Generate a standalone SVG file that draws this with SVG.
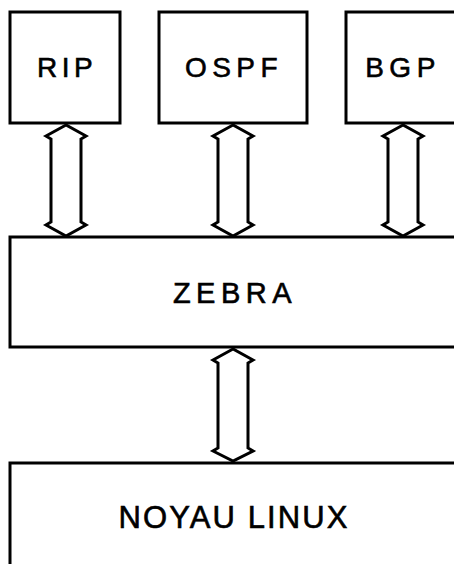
<svg xmlns="http://www.w3.org/2000/svg" width="454" height="564" viewBox="0 0 454 564">
<style>
.box{fill:#fff;stroke:#000;stroke-width:3}
.lbl{font-family:"Liberation Sans",Arial,sans-serif;fill:#000;stroke:#000;stroke-width:0.6;text-anchor:middle}
.arr{fill:#fff;stroke:#000;stroke-width:3;stroke-linejoin:miter}
</style>
<rect width="454" height="564" fill="#fff"/>
<g id="rip"><rect class="box" x="10" y="12" width="110" height="111"/><text class="lbl" x="67" y="77" font-size="28" letter-spacing="4.5">RIP</text></g>
<g id="ospf"><rect class="box" x="159" y="12" width="148" height="111"/><text class="lbl" x="234" y="77" font-size="28" letter-spacing="5.5">OSPF</text></g>
<g id="bgp"><rect class="box" x="346" y="12" width="120" height="111"/><text class="lbl" x="403" y="77" font-size="28" letter-spacing="5.5">BGP</text></g>
<g id="zebra"><rect class="box" x="10" y="237" width="460" height="110"/><text class="lbl" x="235" y="303" font-size="29" letter-spacing="5.5">ZEBRA</text></g>
<g id="noyau"><rect class="box" x="10" y="463" width="460" height="120"/><text class="lbl" x="234" y="528" font-size="31" letter-spacing="2.1">NOYAU LINUX</text></g>
<g id="connectors">
<polygon class="arr" points="66,125 46,136 51,139 51,222 46,225 66,236 86,225 81,222 81,139 86,136"/>
<polygon class="arr" points="233,125 213,136 218,139 218,222 213,225 233,236 253,225 248,222 248,139 253,136"/>
<polygon class="arr" points="403,125 383,136 388,139 388,222 383,225 403,236 423,225 418,222 418,139 423,136"/>
<polygon class="arr" points="233,349 213,360 218,363 218,448 213,451 233,461 253,451 248,448 248,363 253,360"/>
</g>
</svg>
